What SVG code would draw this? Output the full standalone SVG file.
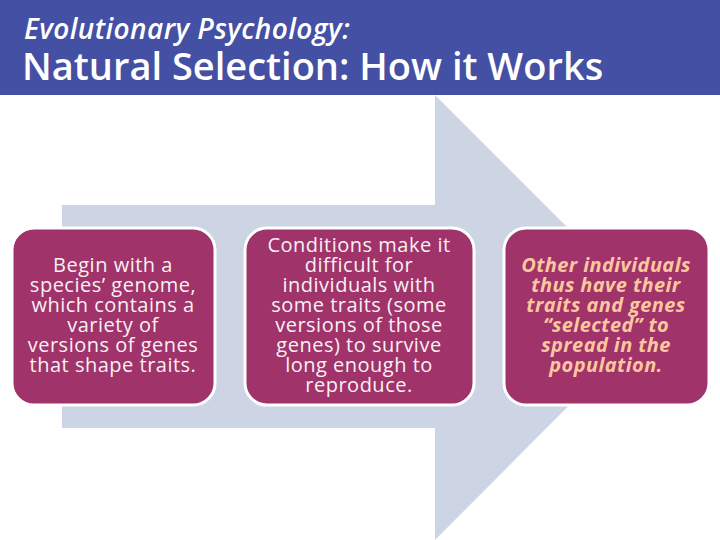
<svg xmlns="http://www.w3.org/2000/svg" width="720" height="540" viewBox="0 0 720 540">
<style>
.box{fill:#A0336A;stroke:#FFFFFF;stroke-width:3}
.t{font-family:"Open Sans","Noto Sans",sans-serif;font-size:20px;letter-spacing:0.5px;fill:#F7F1F3;text-anchor:middle}
.t3{font-family:"Open Sans","Noto Sans",sans-serif;font-size:20px;letter-spacing:0.4px;fill:#FBC79E;text-anchor:middle;font-style:italic;font-weight:bold}
</style>
<rect x="0" y="0" width="720" height="540" fill="#FFFFFF"/>
<rect x="0" y="0" width="720" height="95" fill="#4450A4"/>
<text x="24" y="39" font-family="Open Sans, Noto Sans, sans-serif" font-size="28" font-weight="600" font-style="italic" letter-spacing="0.4" fill="#FFFFFF">Evolutionary Psychology:</text>
<text x="22" y="80" font-family="Open Sans, Noto Sans, sans-serif" font-size="38" font-weight="600" fill="#FFFFFF">Natural Selection: How it Works</text>
<g id="connectors">
<polygon points="62,205 435,205 435,95 657,317 435,540 435,428 62,428" fill="#CDD5E5"/>
</g>
<g id="node1">
<rect class="box" x="12" y="228" width="203" height="177" rx="22"/>
<text class="t"><tspan x="113" y="272">Begin with a</tspan><tspan x="113" y="292">species’ genome,</tspan><tspan x="113" y="312">which contains a</tspan><tspan x="113" y="332">variety of</tspan><tspan x="113" y="352">versions of genes</tspan><tspan x="113" y="372">that shape traits.</tspan></text>
</g>
<g id="node2">
<rect class="box" x="245" y="228" width="229" height="177" rx="22"/>
<text class="t"><tspan x="359" y="252">Conditions make it</tspan><tspan x="359" y="272">difficult for</tspan><tspan x="359" y="292">individuals with</tspan><tspan x="359" y="312">some traits (some</tspan><tspan x="359" y="332">versions of those</tspan><tspan x="359" y="352">genes) to survive</tspan><tspan x="359" y="372">long enough to</tspan><tspan x="359" y="392">reproduce.</tspan></text>
</g>
<g id="node3">
<rect class="box" x="504" y="228" width="205" height="177" rx="22"/>
<text class="t3"><tspan x="606" y="272">Other individuals</tspan><tspan x="606" y="292">thus have their</tspan><tspan x="606" y="312">traits and genes</tspan><tspan x="606" y="332">“selected” to</tspan><tspan x="606" y="352">spread in the</tspan><tspan x="606" y="372">population.</tspan></text>
</g>
</svg>
